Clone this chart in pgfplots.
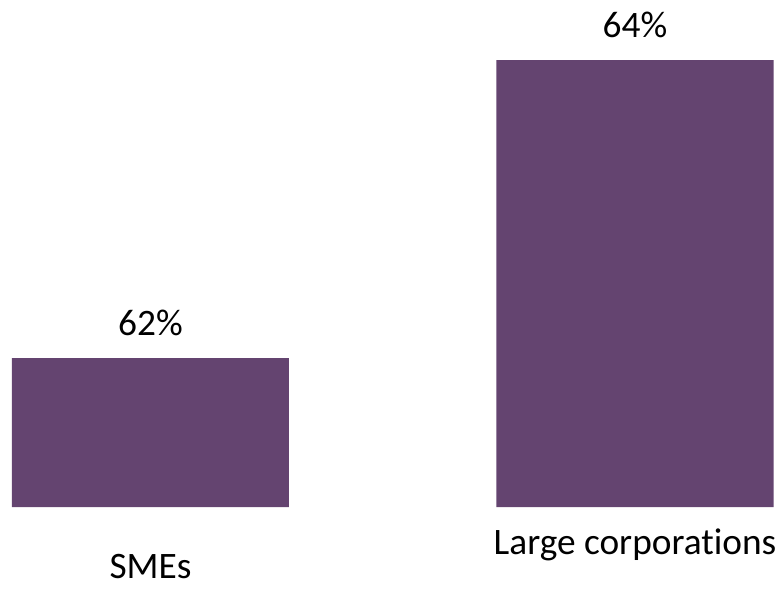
\documentclass[border=0pt]{standalone}
\usepackage{pgfplots}
\pgfplotsset{compat=1.18}
\usepackage{fontspec}
\setmainfont{Carlito}[Ligatures=NoCommon]
\definecolor{barc}{HTML}{644470}
\begin{document}
\begin{tikzpicture}
\begin{axis}[name=ax, scale only axis, width=585pt, height=380.25pt,
  xmin=-0.3106, xmax=1.2993, ymin=61, ymax=64.404,
  ybar, bar width=207.75pt, axis line style={draw=none},
  /pgf/number format/assume math mode=true,
  ytick=\empty, xtick={1}, xticklabels={Large corporations},
  extra x ticks={0}, extra x tick labels={SMEs},
  extra x tick style={xticklabel style={yshift=-19pt}},
  major tick length=0pt,
  xticklabel style={font=\fontsize{28}{33}\selectfont, anchor=north, inner sep=0pt, yshift=-16.5pt},
  nodes near coords={\pgfmathprintnumber{\pgfplotspointmeta}\%},
  nodes near coords style={font=\fontsize{28}{33}\selectfont, anchor=base, inner sep=0pt, yshift=17pt, text=black},
  enlargelimits=false]
\addplot[fill=barc, draw=none] coordinates {(0,62) (1,64)};
\end{axis}
\pgfresetboundingbox
\path (ax.south west) ++(0,-60.75pt) rectangle (ax.north east);
\end{tikzpicture}
\end{document}
